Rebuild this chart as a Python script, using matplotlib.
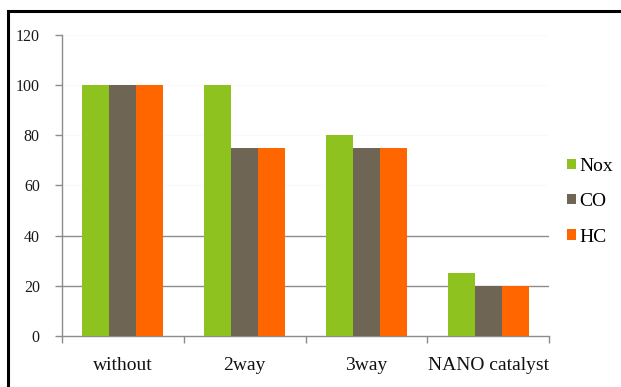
import matplotlib
matplotlib.use("Agg")
import matplotlib.pyplot as plt
from matplotlib.patches import Rectangle
import numpy as np

categories = ["without", "2way", "3way", "NANO catalyst"]
series_names = ["Nox", "CO", "HC"]
nox = [100, 100, 80, 25]
co = [100, 75, 75, 20]
hc = [100, 75, 75, 20]
y_ticks = [0, 20, 40, 60, 80, 100, 120]

colors = ["#8DC21F", "#6F6555", "#FF6600"]
axis_grey = "#8C8C8C"

plt.rcParams["font.family"] = ["Liberation Serif", "DejaVu Serif"]

fig = plt.figure(figsize=(6.21, 3.87), dpi=100)
fig.patch.set_facecolor("white")
ax = fig.add_axes([0.0998, 0.1318, 0.7845, 0.7778])

x = np.arange(len(categories))
width = 0.222
for i, (vals, name) in enumerate(zip([nox, co, hc], series_names)):
    ax.bar(x + (i - 1) * width, vals, width, color=colors[i], label=name,
           zorder=3, linewidth=0)

# horizontal guide lines
for v in [20, 40]:
    ax.axhline(v, color=axis_grey, linewidth=1.0, zorder=1)
for v in [60, 80, 100, 120]:
    ax.axhline(v, color="#FAFAFA", linewidth=1.0, zorder=1)

ax.set_xlim(-0.5, len(categories) - 0.5)
ax.set_ylim(0, 120)
ax.set_yticks(y_ticks)
ax.set_yticklabels([str(t) for t in y_ticks], fontsize=11.5, color="#1A1A1A")
ax.tick_params(axis="y", length=5, width=1, color=axis_grey, pad=11)

# category labels centred, tick marks on group boundaries
ax.set_xticks(x)
ax.set_xticklabels(categories, fontsize=14, color="#111111")
ax.tick_params(axis="x", length=0, pad=15)
ax.set_xticks(np.arange(len(categories) + 1) - 0.5, minor=True)
ax.tick_params(axis="x", which="minor", length=5, width=1, color=axis_grey)

for side in ["top", "right"]:
    ax.spines[side].set_visible(False)
for side in ["left", "bottom"]:
    ax.spines[side].set_color(axis_grey)
    ax.spines[side].set_linewidth(1.0)

leg = ax.legend(loc="center left", bbox_to_anchor=(0.898, 0.479),
                bbox_transform=fig.transFigure, frameon=False,
                fontsize=14, handlelength=0.45, handleheight=0.45,
                handletextpad=0.15, labelspacing=0.95, borderpad=0)

# outer frame
fig.patches.append(Rectangle((7.5 / 621, -0.05), 1.2, 1 - 10.5 / 387 + 0.05,
                             transform=fig.transFigure, fill=False,
                             edgecolor="black", linewidth=2.2, zorder=10))

fig.savefig("out.png", dpi=100, facecolor="white")
